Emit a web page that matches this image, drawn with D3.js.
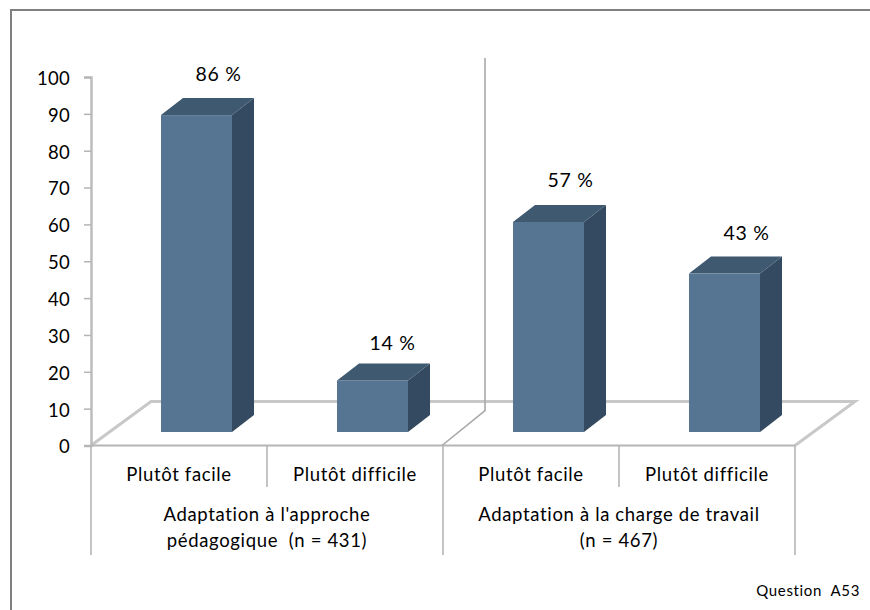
<!DOCTYPE html>
<html lang="fr">
	<head>
		<meta charset="utf-8">
		<title>Question A53</title>
		<script src="https://d3js.org/d3.v7.min.js"></script>
		<style>
			html, body { margin: 0; padding: 0; background: #fff; }
			svg { display: block; font-family: Lato, "Open Sans", sans-serif; }
			text { letter-spacing: 0.65px; }
		</style>
	</head>
	<body>
		<script type="text/javascript">

			const groups = ["Adaptation à l'approche|pédagogique  (n = 431)", "Adaptation à la charge de travail|(n = 467)"];
			const answers = ["Plutôt facile", "Plutôt difficile"];
			const values = [86, 14, 57, 43];
			const yTicks = [0, 10, 20, 30, 40, 50, 60, 70, 80, 90, 100];
			const note = "Question  A53";

			const width = 870;
			const height = 610;
			const marginLeft = 91;
			const plotRight = 795;
			const yBottom = 445.5;
			const yTop = 77;
			const gridColor = "#b5b5b5";
			const fontSize = "18.5px";

			// perspective of the 3D floor and bars
			const floorDx = 60, floorDy = 44;
			const barDx = 22, barDy = 17;
			const barLift = 13.5, barShift = 17.5;

			const y = d3.scaleLinear().domain([0, 100]).range([yBottom, yTop]);
			const x = d3.scaleBand()
				.domain(d3.range(values.length))
				.range([marginLeft, plotRight])
				.paddingInner(0)
				.paddingOuter(0);
			const barWidth = 71;

			const svg = d3.select("body").append("svg")
				.attr("width", width)
				.attr("height", height)
				.attr("viewBox", [0, 0, width, height]);

			// chart frame, only top and left show
			svg.append("path")
				.attr("d", `M11,${height}V10H${width}`)
				.attr("fill", "none")
				.attr("stroke", "#808080")
				.attr("stroke-width", 2);

			// floor
			svg.append("path")
				.attr("d", `M${marginLeft},${yBottom}L${marginLeft + floorDx},${yBottom - floorDy}H${plotRight + floorDx}L${plotRight},${yBottom}`)
				.attr("fill", "none")
				.attr("stroke", "#c8c8c8")
				.attr("stroke-width", 3);

			svg.append("line")
				.attr("x1", marginLeft).attr("x2", plotRight)
				.attr("y1", yBottom).attr("y2", yBottom)
				.attr("stroke", gridColor)
				.attr("stroke-width", 2);

			// group divider, goes up the back wall
			const midX = x(2);
			svg.append("path")
				.attr("d", `M${midX - 1},${yBottom}L${midX + 42},${yBottom - 35}V58`)
				.attr("fill", "none")
				.attr("stroke", "#a8a8a8")
				.attr("stroke-width", 1.6);

			// bars
			const bar = svg.append("g").selectAll("g")
				.data(values)
				.join("g")
				.attr("transform", (d, i) => `translate(${x(i) + (x.bandwidth() - barWidth) / 2 + barShift},${-barLift})`);

			bar.append("path")
				.attr("fill", "#344a60")
				.attr("d", d => `M${barWidth},${yBottom}l${barDx},${-barDy}V${y(d) - barDy}l${-barDx},${barDy}Z`);

			bar.append("path")
				.attr("fill", "#3f5970")
				.attr("d", d => `M0,${y(d)}l${barDx},${-barDy}h${barWidth}l${-barDx},${barDy}Z`);

			bar.append("rect")
				.attr("fill", "#557593")
				.attr("x", 0)
				.attr("y", d => y(d))
				.attr("width", barWidth)
				.attr("height", d => yBottom - y(d));

			// value labels, Excel placed them by hand so they are a bit uneven
			const nudgeX = [0, -2, 0, 0];
			const nudgeY = [2, 6, 1, 2];
			svg.append("g").selectAll("text")
				.data(values)
				.join("text")
				.attr("x", (d, i) => x(i) + x.bandwidth() / 2 + barShift + 22 + nudgeX[i])
				.attr("y", (d, i) => y(d) - barLift - barDy - 19 + nudgeY[i])
				.attr("text-anchor", "middle")
				.style("font-size", "19.5px")
				.attr("fill", "#000")
				.text(d => d + " %");

			// y axis
			svg.append("g")
				.attr("transform", `translate(${marginLeft},0)`)
				.call(d3.axisLeft(y).tickValues(yTicks).tickSize(7).tickPadding(14))
				.call(g => g.select(".domain").attr("stroke", "#bdbdbd").attr("stroke-width", 2.5))
				.call(g => g.selectAll(".tick line").attr("stroke", gridColor).attr("stroke-width", 1.5))
				.call(g => g.selectAll("text")
					.attr("fill", "#000")
					.attr("y", 1.5)
					.style("font-size", fontSize)
					.style("letter-spacing", "0.3px")
					.style("font-family", "Lato, 'Open Sans', sans-serif"));

			// multi-level category axis
			const seps = svg.append("g")
				.attr("stroke", gridColor)
				.attr("stroke-width", 1.6);
			d3.range(values.length + 1).forEach(i => {
				const px = i < values.length ? x(i) : plotRight;
				seps.append("line")
					.attr("x1", px).attr("x2", px)
					.attr("y1", yBottom)
					.attr("y2", i % 2 === 0 ? 555 : 487);
			});

			svg.append("g").selectAll("text")
				.data(values)
				.join("text")
				.attr("x", (d, i) => x(i) + x.bandwidth() / 2)
				.attr("y", 480.5)
				.attr("text-anchor", "middle")
				.style("font-size", fontSize)
				.text((d, i) => answers[i % 2]);

			groups.forEach((g, k) => {
				const cx = (x(k * 2) + x(k * 2 + 1) + x.bandwidth()) / 2;
				g.split("|").forEach((t, j) => {
					svg.append("text")
						.attr("x", cx)
						.attr("y", 521 + j * 26)
						.attr("text-anchor", "middle")
						.style("font-size", fontSize)
						.style("white-space", "pre")
						.text(t);
				});
			});

			svg.append("text")
				.attr("x", 860)
				.attr("y", 596)
				.attr("text-anchor", "end")
				.style("font-size", "15px")
				.style("white-space", "pre")
				.text(note);

		</script>
	</body>
</html>
